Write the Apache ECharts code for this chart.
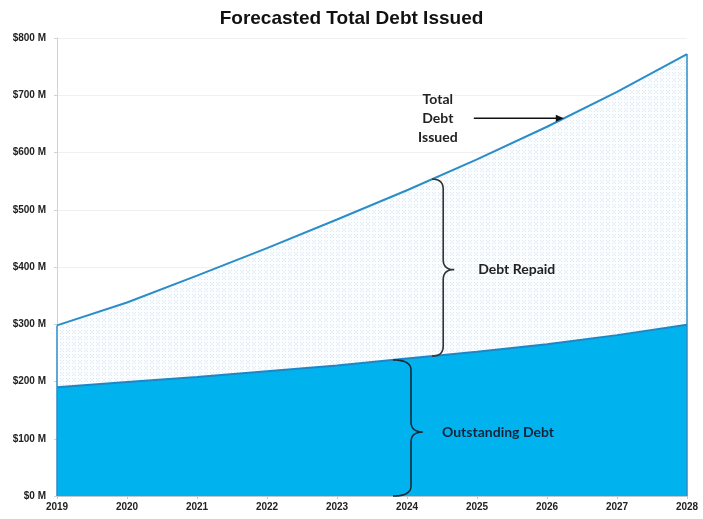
<!DOCTYPE html>
<html>
<head>
<meta charset="utf-8">
<script src="https://cdn.jsdelivr.net/npm/echarts@6/dist/echarts.min.js"></script>
<style>
  html, body { margin: 0; padding: 0; background: #fff; }
  #chart { width: 703px; height: 519px; }
</style>
</head>
<body>
<div id="chart"></div>
<script>
// Forecast years and amounts in $ millions
const years = [2019, 2020, 2021, 2022, 2023, 2024, 2025, 2026, 2027, 2028];
const totalDebtIssued = [298, 338, 385, 433, 483, 534, 588, 645, 706, 772];
const outstandingDebt = [190, 199, 208, 218, 228, 240, 252, 265, 281, 299];
const yTicks = [0, 100, 200, 300, 400, 500, 600, 700, 800];

// Pale dotted fill for the repaid band
function dotPattern() {
  const c = document.createElement('canvas');
  c.width = 6; c.height = 6;
  const g = c.getContext('2d');
  g.fillStyle = '#fbfdfe';
  g.fillRect(0, 0, 6, 6);
  g.fillStyle = '#dce9f2';
  g.fillRect(0, 0, 1, 1);
  g.fillRect(3, 0, 1, 1);
  g.fillRect(0, 3, 1, 1);
  g.fillRect(3, 3, 1, 1);
  g.fillStyle = '#e9f2f8';
  g.fillRect(1, 1, 2, 2);
  return c;
}

const chart = echarts.init(document.getElementById('chart'), null, { renderer: 'canvas' });
const font = '"Liberation Sans", Arial, sans-serif';
const noteFont = 'Lato, "Open Sans", sans-serif';

chart.setOption({
  animation: false,
  title: {
    text: 'Forecasted Total Debt Issued',
    left: 'center',
    top: 4,
    textStyle: { fontFamily: font, fontWeight: 'bold', fontSize: 19, color: '#111' }
  },
  grid: { left: 57, right: 16, top: 38, bottom: 23 },
  xAxis: {
    type: 'value',
    min: years[0],
    max: years[years.length - 1],
    interval: 1,
    axisLine: { show: true, lineStyle: { color: '#bfc7cc' } },
    axisTick: { show: true, length: 3, lineStyle: { color: '#bfc7cc' } },
    splitLine: { show: false },
    axisLabel: {
      formatter: v => String(v),
      fontFamily: font, fontWeight: 'bold', fontSize: 10, color: '#222', margin: 6
    }
  },
  yAxis: {
    type: 'value',
    min: yTicks[0],
    max: yTicks[yTicks.length - 1],
    interval: 100,
    axisLine: { show: true, lineStyle: { color: '#cfd4d8' } },
    axisTick: { show: true, length: 3, lineStyle: { color: '#cfd4d8' } },
    splitLine: { show: true, lineStyle: { color: '#f0f0f0' } },
    axisLabel: {
      formatter: v => '$' + v + ' M',
      fontFamily: font, fontWeight: 'bold', fontSize: 10, color: '#222', margin: 11
    }
  },
  series: [
    {
      name: 'Total Debt Issued',
      type: 'line',
      data: years.map((y, i) => [y, totalDebtIssued[i]]),
      symbol: 'none',
      lineStyle: { color: '#2b8dc8', width: 2 },
      areaStyle: { color: { image: dotPattern(), repeat: 'repeat' }, opacity: 1 },
      markLine: {
        silent: true,
        symbol: 'none',
        label: { show: false },
        lineStyle: { color: '#2b8dc8', width: 1.5, type: 'solid' },
        data: [
          [{ coord: [years[0], 0] }, { coord: [years[0], totalDebtIssued[0]] }],
          [{ coord: [years[9], 0] }, { coord: [years[9], totalDebtIssued[9]] }]
        ]
      }
    },
    {
      name: 'Outstanding Debt',
      type: 'line',
      data: years.map((y, i) => [y, outstandingDebt[i]]),
      symbol: 'none',
      lineStyle: { color: '#1e86c4', width: 2 },
      areaStyle: { color: '#00b3ef', opacity: 1 }
    }
  ]
});

// Value of a series at a fractional year
function at(series, year) {
  const i = Math.min(Math.floor(year - years[0]), years.length - 2);
  const f = year - years[i];
  return series[i] + (series[i + 1] - series[i]) * f;
}
function px(year, value) {
  return chart.convertToPixel({ gridIndex: 0 }, [year, value]);
}

// Sample a quadratic curve into points
function quad(p0, c, p1, out) {
  for (let k = 1; k <= 10; k++) {
    const t = k / 10, u = 1 - t;
    out.push([u * u * p0[0] + 2 * u * t * c[0] + t * t * p1[0],
              u * u * p0[1] + 2 * u * t * c[1] + t * t * p1[1]]);
  }
}

// Curly brace outline: ends at xe, spine at xs, point at xt
function brace(xe, xs, xt, yt, yb, ym) {
  const r = 10;
  const pts = [[xe, yt]];
  quad([xe, yt], [xs, yt], [xs, yt + r], pts);
  pts.push([xs, ym - r]);
  quad([xs, ym - r], [xs, ym], [xt, ym], pts);
  quad([xt, ym], [xs, ym], [xs, ym + r], pts);
  pts.push([xs, yb - r]);
  quad([xs, yb - r], [xs, yb], [xe, yb], pts);
  return pts;
}

// Debt repaid: band between the two lines
const repYear = 2024.36;
const repTop = px(repYear, at(totalDebtIssued, repYear));
const repBot = px(repYear, at(outstandingDebt, repYear));
const repMid = (repTop[1] + repBot[1]) / 2 + 2;

// Outstanding debt: from the lower line down to zero
const outYear = 2023.8;
const outTop = px(outYear, at(outstandingDebt, outYear));
const outBot = px(outYear, 0);
const outMid = (outTop[1] + outBot[1]) / 2 + 4;

// Arrow onto the total line
const arrYear = 2026.24;
const arrTip = px(arrYear, at(totalDebtIssued, arrYear));

chart.setOption({
  graphic: [
    {
      type: 'polyline', z: 100,
      shape: { points: brace(repTop[0], repTop[0] + 11, repTop[0] + 22, repTop[1], repBot[1], repMid) },
      style: { fill: null, stroke: '#333', lineWidth: 1.6 }
    },
    {
      type: 'text', z: 100,
      x: repTop[0] + 46, y: repMid,
      style: { text: 'Debt Repaid', font: 'bold 14px ' + noteFont, fill: '#222', verticalAlign: 'middle' }
    },
    {
      type: 'polyline', z: 100,
      shape: { points: brace(outTop[0], outTop[0] + 18, outTop[0] + 30, outTop[1], outBot[1], outMid) },
      style: { fill: null, stroke: '#1b2a3a', lineWidth: 1.6 }
    },
    {
      type: 'text', z: 100,
      x: outTop[0] + 49, y: outMid,
      style: { text: 'Outstanding Debt', font: 'bold 14px ' + noteFont, fill: '#13243a', verticalAlign: 'middle' }
    },
    {
      type: 'text', z: 100,
      x: arrTip[0] - 126, y: arrTip[1],
      style: {
        text: 'Total\nDebt\nIssued', font: 'bold 14px ' + noteFont, fill: '#222',
        align: 'center', verticalAlign: 'middle', lineHeight: 19
      }
    },
    {
      type: 'line', z: 100,
      shape: { x1: arrTip[0] - 90, y1: arrTip[1], x2: arrTip[0] - 3, y2: arrTip[1] },
      style: { stroke: '#111', lineWidth: 1.5 }
    },
    {
      type: 'polygon', z: 100,
      shape: { points: [[arrTip[0], arrTip[1]], [arrTip[0] - 8, arrTip[1] - 3.5], [arrTip[0] - 8, arrTip[1] + 3.5]] },
      style: { fill: '#111' }
    }
  ]
});
</script>
</body>
</html>
